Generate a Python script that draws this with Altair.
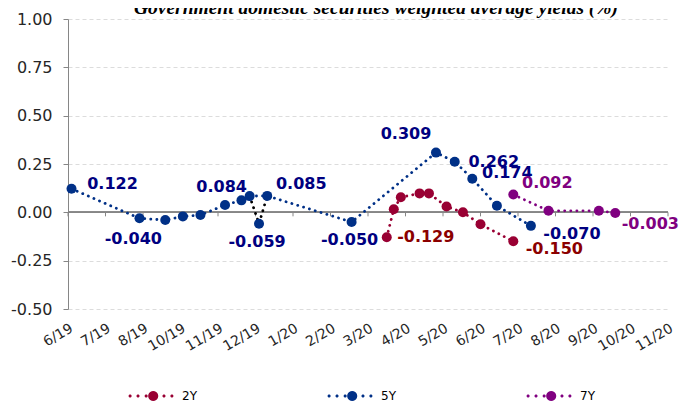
import math
import altair as alt
import pandas as pd

# ---------------- data ----------------
series_names = ["2Y", "5Y", "7Y"]
chart_title = "Government domestic securities weighted average yields (%)"

tick_dates = ["2019-06-28", "2019-07-30", "2019-08-31", "2019-10-02", "2019-11-03",
              "2019-12-05", "2020-01-06", "2020-02-07", "2020-03-10", "2020-04-11",
              "2020-05-13", "2020-06-14", "2020-07-16", "2020-08-17", "2020-09-18",
              "2020-10-20", "2020-11-21"]

y2_dates = ["2020-03-26", "2020-04-01", "2020-04-07", "2020-04-23", "2020-05-01",
            "2020-05-16", "2020-05-30", "2020-06-14", "2020-07-12"]
y2_values = [-0.129, 0.016, 0.078, 0.098, 0.098, 0.030, 0.000, -0.062, -0.150]
y2_labels = ["r", "", "", "", "", "", "", "", "rd"]

y5_dates = ["2019-07-01", "2019-08-28", "2019-09-19", "2019-10-04", "2019-10-19",
            "2019-11-09", "2019-11-23", "2019-11-30", "2019-12-08", "2019-12-15",
            "2020-02-25", "2020-05-07", "2020-05-23", "2020-06-07", "2020-06-28",
            "2020-07-27"]
y5_values = [0.122, -0.031, -0.040, -0.021, -0.014, 0.038, 0.062, 0.084, -0.059, 0.085,
             -0.050, 0.309, 0.262, 0.174, 0.034, -0.070]
y5_labels = ["ru", "", "bl", "", "", "", "", "ul", "b", "ur",
             "b", "al", "r", "ru2", "", "rd"]
# the dip between these two dates is drawn with a black dotted connector
y5_black_segment = ("2019-11-30", "2019-12-15")

y7_dates = ["2020-07-12", "2020-08-11", "2020-09-23", "2020-10-07"]
y7_values = [0.092, 0.008, 0.008, -0.003]
y7_labels = ["ur", "", "", "rd2"]

# ---------------- styles ----------------
marker_colors = ["#990033", "#003087", "#800080"]
label_colors = ["#8b0000", "#000080", "#800080"]
placements = {"r": (39, 0), "ru": (41, -5), "ru2": (35, -6), "rd": (41, 8),
              "rd2": (35, 11), "ur": (34, -12), "ul": (-28, -9), "al": (-30, -19),
              "b": (-2, 18), "bl": (-32, 19)}
axis_gray = "#868686"


def frame(name, dates, values, labels):
    return pd.DataFrame({
        "series": name,
        "date": pd.to_datetime(dates),
        "value": values,
        "place": labels,
        "text": [f"{v:.3f}" for v in values],
    })


df = pd.concat([frame("2Y", y2_dates, y2_values, y2_labels),
                frame("5Y", y5_dates, y5_values, y5_labels),
                frame("7Y", y7_dates, y7_values, y7_labels)], ignore_index=True)

seg_a, seg_b = pd.to_datetime(y5_black_segment[0]), pd.to_datetime(y5_black_segment[1])
is5 = df["series"] == "5Y"
inner = is5 & (df["date"] > seg_a) & (df["date"] < seg_b)
line_df = df[~inner]
black_df = df[is5 & (df["date"] >= seg_a) & (df["date"] <= seg_b)]
ticks_df = pd.DataFrame({"date": pd.to_datetime(tick_dates)})
title_df = pd.DataFrame({"title": [chart_title]})


def dt(s):
    t = pd.Timestamp(s)
    return alt.DateTime(year=t.year, month=t.month, date=t.day)


tick_vals = [dt(s) for s in tick_dates]
x_scale = alt.Scale(domain=[dt(tick_dates[0]), dt(tick_dates[-1])])
y_scale = alt.Scale(domain=[-0.5, 1.0], nice=False, zero=False)

x_axis = alt.Axis(values=tick_vals, format="%-m/%y", labelAngle=-30,
                  labelAlign="right", labelBaseline="top", labelPadding=12,
                  ticks=False, domain=False, grid=False, labelOverlap=False,
                  labelBound=False, labelFlush=False,
                  labelFont="DejaVu Sans", labelFontSize=14,
                  labelColor="#262626", title=None)
y_axis = alt.Axis(values=[-0.5, -0.25, 0, 0.25, 0.5, 0.75, 1.0],
                  labelExpr="(datum.value < 0 ? '-' : '') + format(abs(datum.value), '.2f')",
                  labelFont="DejaVu Sans", labelFontSize=16, labelColor="#262626",
                  labelPadding=11, tickSize=5, tickColor=axis_gray,
                  domainColor=axis_gray, grid=True, gridColor="#dcdcdc",
                  gridDash=[4, 3], title=None)

X = alt.X("date:T", scale=x_scale, axis=x_axis)
Y = alt.Y("value:Q", scale=y_scale, axis=y_axis)

# zero line with small downward ticks (category axis crossing at 0)
zero_line = alt.Chart(ticks_df).mark_rule(color=axis_gray, strokeWidth=1).encode(
    y=alt.datum(0, scale=y_scale, axis=y_axis)
)
zero_ticks = alt.Chart(ticks_df).mark_rule(color=axis_gray, strokeWidth=1, y2Offset=4).encode(
    x=X, y=alt.datum(0, scale=y_scale, axis=y_axis), y2=alt.datum(0)
)

dot_style = dict(strokeDash=[0.1, 6], strokeCap="round", strokeWidth=2.8)

line_layers = [
    alt.Chart(line_df).transform_filter(alt.datum.series == s)
    .mark_line(color=c, **dot_style).encode(x=X, y=Y)
    for s, c in zip(series_names, marker_colors)
]

black = alt.Chart(black_df).mark_line(color="black", **dot_style).encode(x=X, y=Y)


def poly(c, rad, n):
    pts = [(c + rad * math.cos(2 * math.pi * k / n), rad * math.sin(2 * math.pi * k / n))
           for k in range(n)]
    return "M" + "L".join(f"{px:.3f},{py:.3f}" for px, py in pts) + "Z"


legend_path = "".join([poly(p, 0.07, 10) for p in (-0.95, -0.59, -0.22, 0.59, 0.95)]
                      + [poly(0.1, 0.23, 20)])

points = alt.Chart(df).mark_circle(size=100, opacity=1).encode(
    x=X, y=Y,
    color=alt.Color("series:N",
                    scale=alt.Scale(domain=series_names, range=marker_colors),
                    legend=alt.Legend(title=None, orient="none", legendX=61, legendY=355,
                                      direction="horizontal",
                                      symbolType=legend_path, symbolSize=1936,
                                      symbolStrokeWidth=0,
                                      labelFont="DejaVu Sans", labelFontSize=12,
                                      labelColor="black", labelOffset=9,
                                      columnPadding=130)),
)

text_layers = []
for s, c, labs in zip(series_names, label_colors, [y2_labels, y5_labels, y7_labels]):
    for name, (ddx, ddy) in placements.items():
        if name not in labs:
            continue
        text_layers.append(
            alt.Chart(df).transform_filter(
                (alt.datum.place == name) & (alt.datum.series == s)
            ).mark_text(
                dx=ddx, dy=ddy, align="center", baseline="middle",
                font="DejaVu Sans", fontWeight="bold", fontSize=16, color=c,
            ).encode(x=X, y=Y, text="text:N")
        )

title_mark = alt.Chart(title_df).mark_text(
    font="Liberation Serif", fontStyle="italic", fontWeight="bold", fontSize=19.5,
    color="black", align="center", baseline="alphabetic",
).encode(text="title:N", x=alt.value(308), y=alt.value(-5))

chart = alt.layer(zero_ticks, zero_line, *line_layers, black, points, *text_layers,
                  title_mark).properties(
    width=600, height=290,
    autosize=alt.AutoSizeParams(type="none"),
    padding={"left": 60, "top": 11, "right": 13, "bottom": 96},
).configure_view(strokeWidth=0)

chart.save("out.html", embed_options={"renderer": "svg", "actions": False})
